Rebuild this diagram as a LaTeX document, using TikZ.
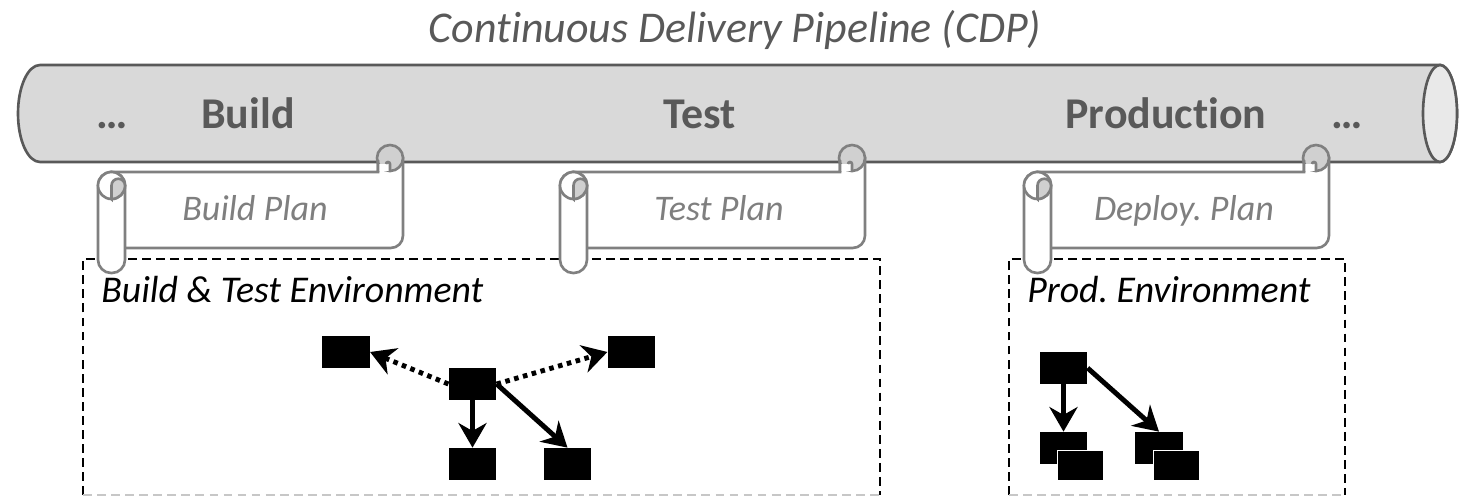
\documentclass[tikz,border=0pt]{standalone}
\usepackage{fontspec}
\setmainfont{Carlito}[Ligatures=CommonOff]
\usepackage{tikz}
\usetikzlibrary{arrows.meta}
\tikzset{>={Stealth[length=14pt,width=16pt,inset=4.5pt]}}
\definecolor{pipegray}{HTML}{D9D9D9}
\definecolor{pipeend}{HTML}{E9E9E9}
\definecolor{darkline}{HTML}{595959}
\definecolor{scrollgray}{HTML}{808080}
\definecolor{curlgray}{HTML}{D0D0D0}
\definecolor{plantext}{HTML}{7F7F7F}
\frenchspacing

\begin{document}
\begin{tikzpicture}[x=0.02cm,y=-0.02cm]
  \useasboundingbox (0,0) rectangle (1461,497);

  \tikzstyle{stage} = [font=\fontsize{25}{30}\selectfont\bfseries, text=darkline, anchor=base, inner sep=0pt]
  \tikzstyle{plan} = [font=\fontsize{20.5}{24}\selectfont\itshape, text=plantext, anchor=base, inner sep=0pt]
  \tikzstyle{envlabel} = [font=\fontsize{21.5}{26}\selectfont\itshape, anchor=base west, inner sep=0pt]
  \tikzstyle{scrollline} = [draw=scrollgray, line width=1.5pt]
  \tikzstyle{envbox} = [draw=black, line width=1.5pt, dash pattern=on 5pt off 3pt]
  \tikzstyle{envbottom} = [draw=black!22, line width=1.5pt, dash pattern=on 5pt off 3pt]
  \tikzstyle{blk} = [fill=black, inner sep=0pt, minimum width=0.95cm, minimum height=0.64cm]
  \tikzstyle{blkfront} = [fill=black, draw=white, line width=0.6pt, inner sep=0pt, minimum width=0.92cm, minimum height=0.6cm]
  \tikzstyle{dep} = [->, line width=2.8pt]
  \tikzstyle{opt} = [->, line width=2.8pt, dash pattern=on 2.6pt off 2.6pt]

  % title
  \node[font=\fontsize{25}{30}\selectfont\itshape, text=darkline, anchor=base, inner sep=0pt] (title) at (735,42) {Continuous Delivery Pipeline (CDP)};

  % environments
  \draw[envbox] (83,495) -- (83,259) -- (880,259) -- (880,495);
  \draw[envbottom] (83,495) -- (880,495);
  \draw[envbox] (1009,495) -- (1009,259) -- (1345,259) -- (1345,495);
  \draw[envbottom] (1009,495) -- (1345,495);
  \node[envlabel] (bte) at (101,302) {Build \& Test Environment};
  \node[envlabel] (pe) at (1027,302) {Prod. Environment};

  % pipeline
  \draw[draw=darkline, line width=1.5pt, fill=pipegray] (1440,65) -- (40,65)
    arc[start angle=-90, end angle=-270, x radius=22, y radius=48.5] -- (1440,162)
    arc[start angle=90, end angle=-90, x radius=17, y radius=48.5] -- cycle;
  \draw[draw=darkline, line width=1.5pt, fill=pipeend] (1440,113.5) ellipse[x radius=17, y radius=48.5];
  \node[stage] (dl) at (112,128) {…};
  \node[stage] (sbuild) at (248,128) {Build};
  \node[stage] (stest) at (700,128) {Test};
  \node[stage] (sprod) at (1166,128) {Production};
  \node[stage] (dr) at (1347,128) {…};

  % plans
  \begin{scope}
    \draw[scrollline, fill=white] (111,172) -- (378,172) -- (378,158) -- (403,158)
      {[rounded corners=7pt] -- (403,248) -- (111,248)} -- cycle;
    \draw[scrollline, fill=curlgray] (390,158) circle[radius=13];
    \fill[white] (379,164) rectangle (390,171);
    \draw[scrollline] (378,160) -- (378,172) (390,172) -- (390,164) arc[start angle=0, end angle=-180, radius=2];
    \draw[scrollline, fill=white, rounded corners=7.5pt] (98,172) rectangle (125,273);
    \draw[scrollline, fill=white] (111.5,185.5) circle[radius=13.5];
    \draw[scrollline, fill=curlgray] (111.5,199) -- (111.5,185.5) arc[start angle=180, end angle=360, radius=6.75]
      arc[start angle=0, end angle=90, radius=13.5] -- cycle;
    \node[plan] (pbuild) at (255,220) {Build Plan};
  \end{scope}

  \begin{scope}[shift={(462,0)}]
    \draw[scrollline, fill=white] (111,172) -- (378,172) -- (378,158) -- (403,158)
      {[rounded corners=7pt] -- (403,248) -- (111,248)} -- cycle;
    \draw[scrollline, fill=curlgray] (390,158) circle[radius=13];
    \fill[white] (379,164) rectangle (390,171);
    \draw[scrollline] (378,160) -- (378,172) (390,172) -- (390,164) arc[start angle=0, end angle=-180, radius=2];
    \draw[scrollline, fill=white, rounded corners=7.5pt] (98,172) rectangle (125,273);
    \draw[scrollline, fill=white] (111.5,185.5) circle[radius=13.5];
    \draw[scrollline, fill=curlgray] (111.5,199) -- (111.5,185.5) arc[start angle=180, end angle=360, radius=6.75]
      arc[start angle=0, end angle=90, radius=13.5] -- cycle;
    \node[plan] (ptest) at (257,220) {Test Plan};
  \end{scope}

  \begin{scope}[shift={(926,0)}]
    \draw[scrollline, fill=white] (111,172) -- (378,172) -- (378,158) -- (403,158)
      {[rounded corners=7pt] -- (403,248) -- (111,248)} -- cycle;
    \draw[scrollline, fill=curlgray] (390,158) circle[radius=13];
    \fill[white] (379,164) rectangle (390,171);
    \draw[scrollline] (378,160) -- (378,172) (390,172) -- (390,164) arc[start angle=0, end angle=-180, radius=2];
    \draw[scrollline, fill=white, rounded corners=7.5pt] (98,172) rectangle (125,273);
    \draw[scrollline, fill=white] (111.5,185.5) circle[radius=13.5];
    \draw[scrollline, fill=curlgray] (111.5,199) -- (111.5,185.5) arc[start angle=180, end angle=360, radius=6.75]
      arc[start angle=0, end angle=90, radius=13.5] -- cycle;
    \node[plan] (pdeploy) at (258,220) {Deploy. Plan};
  \end{scope}

  % build & test components
  \node[blk] (ba) at (346,352) {};
  \node[blk] (bb) at (472.5,384) {};
  \node[blk] (bc) at (631.5,352) {};
  \node[blk] (bd) at (472.5,464) {};
  \node[blk] (be) at (567.5,464) {};

  \draw[opt] (bb.west) -- (ba.east);
  \draw[opt] (bb.east) -- (bc.west);
  \draw[dep] (bb.south) -- (bd.north);
  \draw[dep] (bb.east) -- (be.north);

  % production components
  \node[blk] (pa) at (1063.5,368) {};
  \node[blk] (pb) at (1063.5,448) {};
  \node[blkfront] (pb2) at (1080.5,465.5) {};
  \node[blk] (pc) at (1159,448) {};
  \node[blkfront] (pc2) at (1176.5,465.5) {};

  \draw[dep] (pa.south) -- (pb.north);
  \draw[dep] (pa.east) -- (pc.north);
\end{tikzpicture}
\end{document}
